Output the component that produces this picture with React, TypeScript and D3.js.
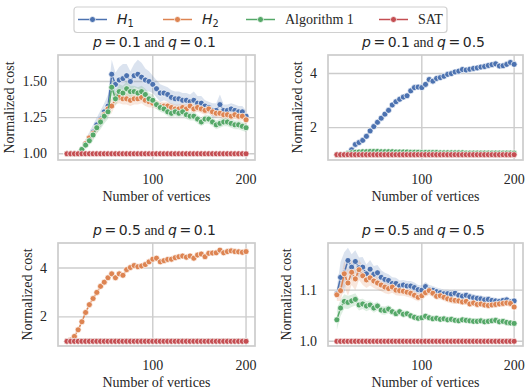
import React from 'react';
import * as d3 from 'd3';

// number of vertices (x positions shared by every series)
const vertices = [8, 12, 16, 20, 24, 28, 32, 36, 40, 44, 48, 52, 56, 60, 64, 68, 72, 76, 80, 84, 88, 92, 96, 100,
  104, 108, 112, 116, 120, 124, 128, 132, 136, 140, 144, 148, 152, 156, 160, 164, 168, 172, 176, 180, 184, 188,
  192, 196, 200];

const xTicks = [100, 200];
const seriesNames = ['H1', 'H2', 'Algorithm 1', 'SAT'];

// SAT is always optimal
const sat = vertices.map(() => 1);

// p = 0.1, q = 0.1
const p1H1 = [1, 1, 1, 1, 1.03, 1.07, 1.11, 1.15, 1.2, 1.24,
  1.29, 1.33, 1.55, 1.48, 1.51, 1.52, 1.54, 1.5, 1.54, 1.55,
  1.53, 1.51, 1.5, 1.48, 1.45, 1.42, 1.42, 1.41, 1.39, 1.38,
  1.38, 1.37, 1.37, 1.36, 1.37, 1.35, 1.35, 1.33, 1.32, 1.3,
  1.3, 1.34, 1.3, 1.3, 1.31, 1.3, 1.29, 1.29, 1.26];
const p1H1Ci = [0, 0, 0, 0.01, 0.02, 0.03, 0.04, 0.05, 0.05, 0.06,
  0.06, 0.08, 0.1, 0.08, 0.09, 0.1, 0.08, 0.07, 0.08, 0.1,
  0.1, 0.08, 0.07, 0.06, 0.06, 0.06, 0.05, 0.05, 0.05, 0.05,
  0.05, 0.05, 0.05, 0.05, 0.06, 0.05, 0.05, 0.04, 0.04, 0.05,
  0.05, 0.07, 0.04, 0.04, 0.04, 0.04, 0.04, 0.04, 0.04];
const p1H2 = [1, 1, 1, 1, 1.03, 1.07, 1.11, 1.14, 1.18, 1.23,
  1.27, 1.31, 1.33, 1.38, 1.39, 1.38, 1.38, 1.37, 1.38, 1.38,
  1.39, 1.37, 1.36, 1.35, 1.34, 1.33, 1.33, 1.33, 1.32, 1.31,
  1.31, 1.32, 1.31, 1.33, 1.31, 1.32, 1.31, 1.3, 1.31, 1.29,
  1.28, 1.28, 1.27, 1.27, 1.26, 1.27, 1.26, 1.26, 1.235];
const p1H2Ci = [0, 0, 0, 0.01, 0.02, 0.03, 0.03, 0.04, 0.04, 0.04,
  0.04, 0.05, 0.05, 0.04, 0.04, 0.04, 0.04, 0.04, 0.04, 0.04,
  0.04, 0.04, 0.04, 0.03, 0.03, 0.03, 0.03, 0.03, 0.03, 0.03,
  0.03, 0.03, 0.03, 0.03, 0.03, 0.03, 0.03, 0.03, 0.03, 0.03,
  0.03, 0.03, 0.03, 0.03, 0.03, 0.03, 0.03, 0.03, 0.03];
const p1Alg = [1, 1, 1, 1, 1.03, 1.06, 1.09, 1.13, 1.18, 1.22,
  1.26, 1.29, 1.46, 1.38, 1.43, 1.42, 1.45, 1.43, 1.43, 1.42,
  1.43, 1.41, 1.38, 1.37, 1.34, 1.32, 1.31, 1.29, 1.28, 1.29,
  1.28, 1.29, 1.27, 1.26, 1.26, 1.24, 1.22, 1.24, 1.24, 1.22,
  1.2, 1.21, 1.22, 1.22, 1.21, 1.2, 1.2, 1.19, 1.18];
const p1AlgCi = [0, 0, 0, 0.01, 0.02, 0.03, 0.03, 0.04, 0.04, 0.05,
  0.05, 0.05, 0.06, 0.05, 0.05, 0.05, 0.05, 0.04, 0.04, 0.04,
  0.04, 0.04, 0.04, 0.04, 0.03, 0.03, 0.03, 0.03, 0.03, 0.03,
  0.03, 0.03, 0.03, 0.03, 0.03, 0.03, 0.03, 0.03, 0.03, 0.03,
  0.03, 0.03, 0.03, 0.03, 0.03, 0.03, 0.03, 0.03, 0.03];

// p = 0.1, q = 0.5
const p2H1 = [1, 1, 1, 1.05, 1.18, 1.38, 1.45, 1.53, 1.68, 1.88,
  2.04, 2.2, 2.35, 2.5, 2.64, 2.84, 2.96, 3.05, 3.13, 3.18,
  3.36, 3.48, 3.5, 3.48, 3.6, 3.78, 3.72, 3.82, 3.85, 3.9,
  3.97, 4.0, 4.06, 4.09, 4.15, 4.13, 4.16, 4.19, 4.21, 4.24,
  4.26, 4.3, 4.33, 4.36, 4.28, 4.29, 4.34, 4.41, 4.34];
const p2H1Ci = [0, 0, 0, 0.02, 0.04, 0.06, 0.07, 0.08, 0.08, 0.08,
  0.08, 0.08, 0.08, 0.08, 0.08, 0.08, 0.08, 0.08, 0.08, 0.08,
  0.08, 0.08, 0.08, 0.08, 0.08, 0.08, 0.08, 0.08, 0.08, 0.08,
  0.08, 0.08, 0.08, 0.08, 0.08, 0.08, 0.08, 0.08, 0.08, 0.09,
  0.09, 0.09, 0.09, 0.1, 0.1, 0.1, 0.1, 0.1, 0.1];
const p2H2 = vertices.map(() => 1);
const p2Alg = [1, 1, 1.01, 1.04, 1.07, 1.09, 1.1, 1.11, 1.11, 1.12,
  1.12, 1.12, 1.11, 1.11, 1.11, 1.11, 1.1, 1.1, 1.1, 1.1,
  1.09, 1.09, 1.09, 1.08, 1.08, 1.08, 1.08, 1.08, 1.07, 1.07,
  1.07, 1.07, 1.07, 1.07, 1.07, 1.06, 1.06, 1.06, 1.06, 1.06,
  1.06, 1.06, 1.06, 1.06, 1.06, 1.06, 1.06, 1.06, 1.06];
const p2AlgCi = vertices.map((v) => (v < 16 ? 0 : 0.03));

// p = 0.5, q = 0.1
const p3H1 = vertices.map(() => 1);
const p3H2 = [1, 1.05, 1.2, 1.47, 1.8, 2.18, 2.5, 2.75, 3.0, 3.25,
  3.42, 3.6, 3.76, 3.6, 3.76, 3.7, 3.93, 4.02, 4.1, 4.05,
  4.08, 4.14, 4.25, 4.36, 4.4, 4.25, 4.3, 4.35, 4.36, 4.42,
  4.46, 4.49, 4.44, 4.49, 4.4, 4.53, 4.57, 4.46, 4.6, 4.61,
  4.62, 4.73, 4.62, 4.67, 4.7, 4.67, 4.66, 4.64, 4.67];
const p3H2Ci = [0, 0.03, 0.05, 0.07, 0.08, 0.09, 0.1, 0.1, 0.1, 0.1,
  0.1, 0.1, 0.1, 0.1, 0.1, 0.1, 0.1, 0.1, 0.1, 0.1,
  0.1, 0.1, 0.1, 0.1, 0.1, 0.1, 0.1, 0.1, 0.1, 0.1,
  0.1, 0.1, 0.1, 0.1, 0.1, 0.1, 0.1, 0.1, 0.1, 0.1,
  0.1, 0.1, 0.1, 0.1, 0.1, 0.1, 0.1, 0.1, 0.1];
const p3Alg = vertices.map(() => 1);

// p = 0.5, q = 0.5
const p4H1 = [1.093, 1.125, 1.134, 1.158, 1.145, 1.156, 1.144, 1.145, 1.132, 1.141,
  1.131, 1.134, 1.125, 1.121, 1.119, 1.113, 1.113, 1.108, 1.11, 1.108,
  1.108, 1.105, 1.101, 1.1, 1.107, 1.101, 1.1, 1.097, 1.095, 1.093,
  1.093, 1.092, 1.094, 1.09, 1.088, 1.09, 1.087, 1.085, 1.084, 1.083,
  1.081, 1.082, 1.08, 1.079, 1.078, 1.08, 1.081, 1.077, 1.079];
const p4H1Ci = [0.012, 0.03, 0.04, 0.025, 0.025, 0.022, 0.02, 0.02, 0.018, 0.018,
  0.016, 0.015, 0.014, 0.013, 0.012, 0.012, 0.011, 0.011, 0.01, 0.01,
  0.01, 0.01, 0.009, 0.009, 0.009, 0.009, 0.008, 0.008, 0.008, 0.008,
  0.008, 0.008, 0.007, 0.007, 0.007, 0.007, 0.007, 0.007, 0.006, 0.006,
  0.006, 0.006, 0.006, 0.006, 0.006, 0.006, 0.006, 0.006, 0.006];
const p4H2 = [1.091, 1.099, 1.132, 1.114, 1.135, 1.122, 1.14, 1.128, 1.12, 1.124,
  1.118, 1.114, 1.11, 1.106, 1.103, 1.106, 1.1, 1.099, 1.098, 1.096,
  1.094, 1.09, 1.086, 1.089, 1.095, 1.099, 1.094, 1.088, 1.089, 1.086,
  1.083, 1.081, 1.08, 1.079, 1.077, 1.078, 1.073, 1.075, 1.072, 1.073,
  1.071, 1.07, 1.071, 1.072, 1.073, 1.074, 1.075, 1.074, 1.067];
const p4H2Ci = [0.012, 0.02, 0.025, 0.025, 0.025, 0.022, 0.02, 0.018, 0.016, 0.015,
  0.014, 0.013, 0.012, 0.012, 0.011, 0.011, 0.01, 0.01, 0.009, 0.009,
  0.009, 0.009, 0.008, 0.008, 0.008, 0.008, 0.008, 0.007, 0.007, 0.007,
  0.007, 0.007, 0.007, 0.006, 0.006, 0.006, 0.006, 0.006, 0.006, 0.006,
  0.006, 0.006, 0.006, 0.006, 0.006, 0.006, 0.006, 0.006, 0.006];
const p4Alg = [1.042, 1.065, 1.078, 1.076, 1.079, 1.082, 1.071, 1.073, 1.069, 1.071,
  1.065, 1.069, 1.061, 1.06, 1.063, 1.058, 1.054, 1.058, 1.053, 1.054,
  1.05, 1.047, 1.045, 1.046, 1.049, 1.046, 1.044, 1.045, 1.043, 1.044,
  1.042, 1.043, 1.041, 1.04, 1.042, 1.041, 1.04, 1.039, 1.039, 1.04,
  1.038, 1.039, 1.04, 1.041, 1.038, 1.039, 1.037, 1.036, 1.035];
const p4AlgCi = [0.02, 0.016, 0.014, 0.013, 0.012, 0.012, 0.011, 0.01, 0.01, 0.009,
  0.009, 0.009, 0.008, 0.008, 0.008, 0.007, 0.007, 0.007, 0.007, 0.006,
  0.006, 0.006, 0.006, 0.006, 0.006, 0.006, 0.005, 0.005, 0.005, 0.005,
  0.005, 0.005, 0.005, 0.005, 0.005, 0.005, 0.005, 0.005, 0.005, 0.005,
  0.005, 0.005, 0.005, 0.005, 0.005, 0.005, 0.005, 0.005, 0.005];

const zeroCi = vertices.map(() => 0);

const colors = ['#4c72b0', '#dd8452', '#55a868', '#c44e52'];
const serif = '"Liberation Serif", "Times New Roman", serif';
const sans = '"DejaVu Sans", sans-serif';
const FS = 14;
const ink = '#262626';
const gridColor = '#cccccc';

const panels = [
  { p: '0.1', q: '0.1', box: { x: 58, y: 55, w: 197, h: 105 }, yTicks: [1.0, 1.25, 1.5], fmt: '.2f',
    series: [[p1H1, p1H1Ci], [p1H2, p1H2Ci], [p1Alg, p1AlgCi], [sat, zeroCi]] },
  { p: '0.1', q: '0.5', box: { x: 328, y: 55, w: 195, h: 105 }, yTicks: [2, 4], fmt: 'd',
    series: [[p2H1, p2H1Ci], [p2H2, zeroCi], [p2Alg, p2AlgCi], [sat, zeroCi]] },
  { p: '0.5', q: '0.1', box: { x: 58, y: 243, w: 197, h: 103 }, yTicks: [2, 4], fmt: 'd',
    series: [[p3H1, zeroCi], [p3H2, p3H2Ci], [p3Alg, zeroCi], [sat, zeroCi]] },
  { p: '0.5', q: '0.5', box: { x: 328, y: 243, w: 195, h: 103 }, yTicks: [1.0, 1.1], fmt: '.1f',
    series: [[p4H1, p4H1Ci], [p4H2, p4H2Ci], [p4Alg, p4AlgCi], [sat, zeroCi]] },
];

const pad = (lo: number, hi: number) => [lo - (hi - lo) * 0.05, hi + (hi - lo) * 0.05];
const textW = (s: string) => s.split('').reduce((a, c) => a + (c === '.' ? 0.25 : 0.5), 0) * FS;

const MathTitle = ({ cx, y, p, q }: any) => (
  <text x={cx} y={y} textAnchor="middle" fontSize={FS} fill={ink}>
    <tspan fontFamily={sans} fontStyle="italic">p</tspan>
    <tspan fontFamily={sans} dx={2.5}>=</tspan>
    <tspan fontFamily={sans} dx={2.5}>{p}</tspan>
    <tspan fontFamily={serif}> and </tspan>
    <tspan fontFamily={sans} fontStyle="italic">q</tspan>
    <tspan fontFamily={sans} dx={2.5}>=</tspan>
    <tspan fontFamily={sans} dx={2.5}>{q}</tspan>
  </text>
);

const Panel = ({ cfg }: any) => {
  const { box, series, yTicks, fmt } = cfg;
  const [x0, x1] = pad(d3.min(vertices)!, d3.max(vertices)!);
  const x = d3.scaleLinear().domain([x0, x1]).range([box.x, box.x + box.w]);
  const lows = series.flatMap(([v, ci]: any) => v.map((d: number, i: number) => d - ci[i]));
  const highs = series.flatMap(([v, ci]: any) => v.map((d: number, i: number) => d + ci[i]));
  const [y0, y1] = pad(d3.min(lows) as number, d3.max(highs) as number);
  const y = d3.scaleLinear().domain([y0, y1]).range([box.y + box.h, box.y]);

  const line = d3.line<number>().x((_, i) => x(vertices[i])).y((d) => y(d));
  const band = (ci: number[]) =>
    d3.area<number>().x((_, i) => x(vertices[i])).y0((d, i) => y(d - ci[i])).y1((d, i) => y(d + ci[i]));

  const f = d3.format(fmt);
  const tickLabels = yTicks.map((t: number) => f(t));
  const maxW = d3.max(tickLabels, (s: string) => textW(s)) as number;
  const ylabX = box.x - 11 - maxW - 8.5;
  const cy = box.y + box.h / 2;

  return (
    <g>
      {/* grid */}
      {xTicks.map((t) => (
        <line key={'gx' + t} x1={x(t)} x2={x(t)} y1={box.y} y2={box.y + box.h} stroke={gridColor} strokeWidth={1.4} />
      ))}
      {yTicks.map((t: number) => (
        <line key={'gy' + t} x1={box.x} x2={box.x + box.w} y1={y(t)} y2={y(t)} stroke={gridColor} strokeWidth={1.4} />
      ))}
      {/* confidence bands */}
      {series.map(([v, ci]: any, k: number) => (
        <path key={'b' + k} d={band(ci)(v) || ''} fill={colors[k]} fillOpacity={0.2} stroke="none" />
      ))}
      {/* lines with markers */}
      {series.map(([v]: any, k: number) => (
        <g key={'s' + k}>
          <path d={line(v) || ''} fill="none" stroke={colors[k]} strokeWidth={1.5} />
          {v.map((d: number, i: number) => (
            <circle key={i} cx={x(vertices[i])} cy={y(d)} r={3} fill={colors[k]} stroke="#fff" strokeWidth={0.7} />
          ))}
        </g>
      ))}
      {/* frame */}
      <rect x={box.x} y={box.y} width={box.w} height={box.h} fill="none" stroke={gridColor} strokeWidth={1.7} />
      {/* tick labels */}
      {xTicks.map((t) => (
        <text key={'tx' + t} x={x(t)} y={box.y + box.h + 23.5} textAnchor="middle" fontFamily={serif} fontSize={FS} fill={ink}>
          {t}
        </text>
      ))}
      {yTicks.map((t: number, i: number) => (
        <text key={'ty' + t} x={box.x - 11} y={y(t)} dy="0.33em" textAnchor="end" fontFamily={serif} fontSize={FS} fill={ink}>
          {tickLabels[i]}
        </text>
      ))}
      <text x={box.x + box.w / 2} y={box.y + box.h + 41} textAnchor="middle" fontFamily={serif} fontSize={FS} fill={ink}>
        Number of vertices
      </text>
      <text transform={`translate(${ylabX},${cy}) rotate(-90)`} textAnchor="middle" fontFamily={serif} fontSize={FS} fill={ink}>
        Normalized cost
      </text>
      <MathTitle cx={box.x + box.w / 2 - 2} y={box.y - 8.5} p={cfg.p} q={cfg.q} />
    </g>
  );
};

const legendX = [78, 163, 246, 379];

const Legend = () => (
  <g>
    <rect x={74} y={7} width={373} height={25.5} rx={3} fill="#fff" fillOpacity={0.8} stroke="#d0d0d0" strokeWidth={1.2} />
    {seriesNames.map((name, k) => (
      <g key={name}>
        <line x1={legendX[k]} x2={legendX[k] + 29} y1={19.5} y2={19.5} stroke={colors[k]} strokeWidth={1.5} />
        <circle cx={legendX[k] + 14.5} cy={19.5} r={3} fill={colors[k]} stroke="#fff" strokeWidth={0.7} />
        {name.startsWith('H') ? (
          <text x={legendX[k] + 39} y={24} fontSize={FS} fill={ink} fontFamily={sans}>
            <tspan fontStyle="italic">H</tspan>
            <tspan fontSize={9.8} dy={3}>{name.slice(1)}</tspan>
          </text>
        ) : (
          <text x={legendX[k] + 39} y={24} fontSize={FS} fill={ink} fontFamily={serif}>
            {name}
          </text>
        )}
      </g>
    ))}
  </g>
);

export default function App() {
  return (
    <svg width={530} height={392} style={{ position: 'absolute', left: 0, top: 0, background: '#fff' }}>
      {panels.map((cfg, i) => (
        <Panel key={i} cfg={cfg} />
      ))}
      <Legend />
    </svg>
  );
}
